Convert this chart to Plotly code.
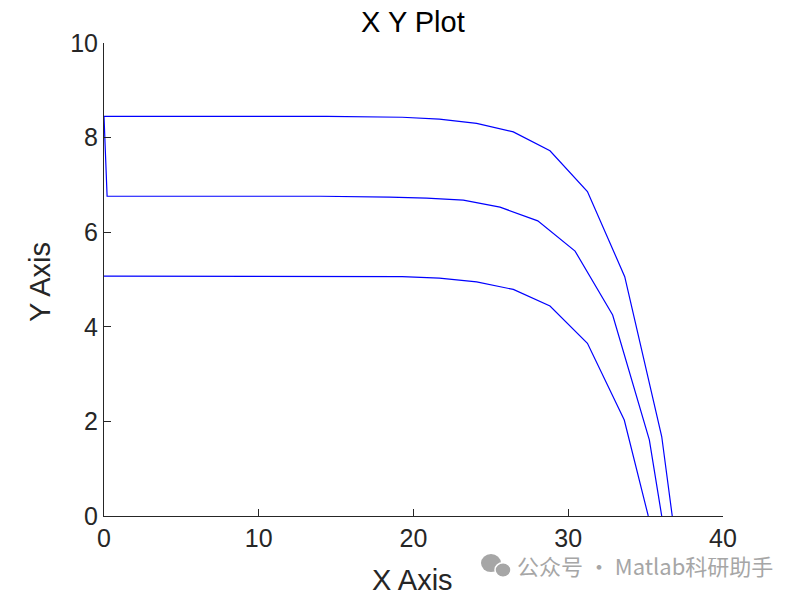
import plotly.graph_objects as go

# curve data
top_x = [0, 4.8, 9.6, 14.4, 19.27, 21.67, 24.08, 26.45, 28.82, 31.24, 33.65, 36.04, 36.72]
top_y = [8.45, 8.45, 8.45, 8.45, 8.43, 8.39, 8.30, 8.12, 7.72, 6.86, 5.06, 1.68, 0]

mid_x = [0.2, 4.4, 9.2, 14.0, 18.45, 20.85, 23.22, 25.59, 28.03, 30.44, 32.87, 35.24, 36.04]
mid_y = [6.76, 6.76, 6.76, 6.76, 6.74, 6.72, 6.68, 6.53, 6.24, 5.60, 4.25, 1.61, 0]

low_x = [0, 4.8, 9.6, 14.4, 19.27, 21.67, 24.08, 26.45, 28.82, 31.24, 33.62, 35.17]
low_y = [5.07, 5.07, 5.07, 5.07, 5.06, 5.03, 4.95, 4.79, 4.44, 3.65, 2.03, 0]

x_ticks = [0, 10, 20, 30, 40]
y_ticks = [0, 2, 4, 6, 8, 10]

font = "Liberation Sans, Arial, sans-serif"
ink = "#262626"
mark = "#a6a6a6"

fig = go.Figure()

# middle curve is drawn back to the origin, then joined to the top curve
fig.add_trace(go.Scatter(
    x=mid_x[::-1] + top_x,
    y=mid_y[::-1] + top_y,
    mode="lines",
    line=dict(color="#0000ff", width=1.2),
    showlegend=False,
))
fig.add_trace(go.Scatter(
    x=low_x, y=low_y,
    mode="lines",
    line=dict(color="#0000ff", width=1.2),
    showlegend=False,
))

axis_style = dict(
    showgrid=False, zeroline=False, automargin=False,
    showline=True, linecolor=ink, linewidth=1,
    ticks="inside", ticklen=7, tickcolor=ink, tickwidth=1,
    tickfont=dict(family=font, size=25, color=ink),
)

fig.update_xaxes(range=[0, 40], tickvals=x_ticks, **axis_style)
fig.update_yaxes(range=[0, 10], tickvals=y_ticks, **axis_style)


def text(s, x, y, size, color="black", angle=0, xanchor="center", family=font):
    return dict(text=s, xref="paper", yref="paper", x=x, y=y, xanchor=xanchor,
                yanchor="middle", showarrow=False, textangle=angle,
                font=dict(family=family, size=size, color=color))


def bubble(cx, cy, r, edge=0):
    # round bubble sized in pixels, anchored at a paper position
    return dict(type="circle", xref="paper", yref="paper",
                xsizemode="pixel", ysizemode="pixel", xanchor=cx, yanchor=cy,
                x0=-r, x1=r, y0=-r * 0.9, y1=r * 0.9, fillcolor=mark,
                line=dict(color="white", width=edge))


fig.update_layout(
    width=796, height=596,
    margin=dict(l=96, r=81, t=35, b=88),
    plot_bgcolor="white", paper_bgcolor="white",
    annotations=[
        text("X Y Plot", 0.499, 1.044, 29),
        text("X Axis", 0.499, -0.135, 29, color=ink),
        text("Y Axis", -0.103, 0.495, 29, color=ink, angle=-90),
        text("公众号 · Matlab科研助手", 0.664, -0.104, 22, color=mark,
             xanchor="left", family="Noto Sans CJK SC"),
    ],
    # small chat-bubble logo next to the watermark
    shapes=[
        bubble(0.6252, -0.0994, 10),
        bubble(0.6446, -0.1142, 8, edge=1.5),
    ],
)

fig.write_html("out.html")
